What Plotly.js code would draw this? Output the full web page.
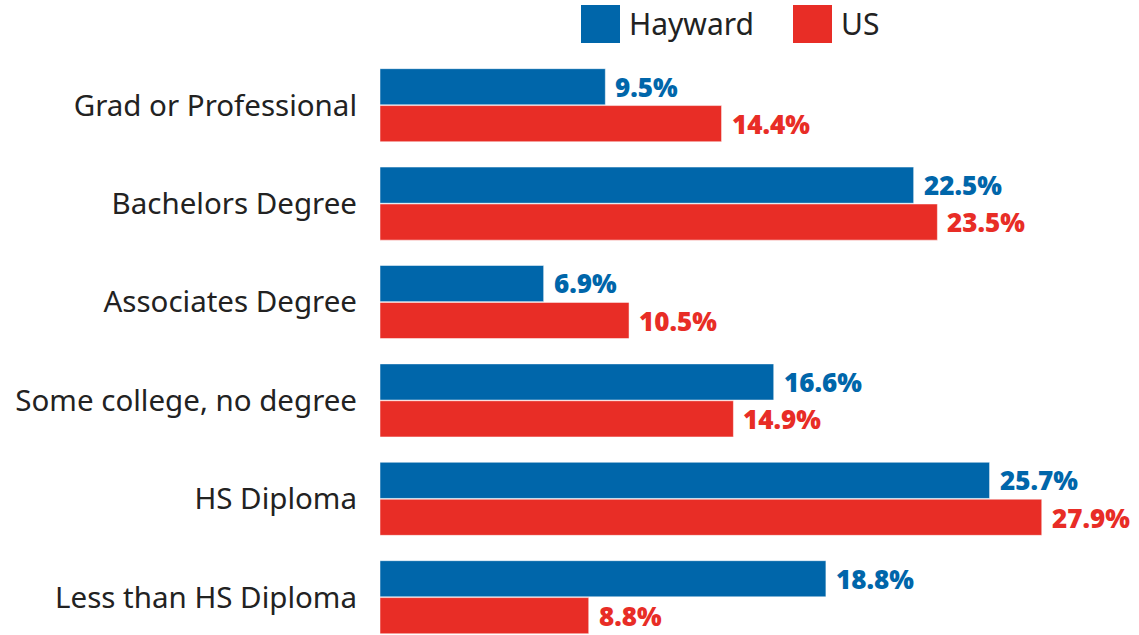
<!DOCTYPE html>
<html><head><meta charset="utf-8">
<script src="https://cdn.plot.ly/plotly-3.0.1.min.js"></script>
<style>html,body{margin:0;padding:0;background:#fff}#chart{width:1139px;height:635px}</style>
</head><body><div id="chart"></div>
<script>
const categories = ["Grad or Professional","Bachelors Degree","Associates Degree","Some college, no degree","HS Diploma","Less than HS Diploma"];
const hayward = [9.5, 22.5, 6.9, 16.6, 25.7, 18.8];
const us = [14.4, 23.5, 10.5, 14.9, 27.9, 8.8];
const seriesNames = ["Hayward","US"];
const BLUE = "#0066aa", RED = "#e82d26";

const traces = [
  {type:"bar", orientation:"h", name:seriesNames[0], y:categories, x:hayward, marker:{color:BLUE, line:{color:"#ffffff", width:0.5}}, hoverinfo:"x"},
  {type:"bar", orientation:"h", name:seriesNames[1], y:categories, x:us, marker:{color:RED, line:{color:"#ffffff", width:0.5}}, hoverinfo:"x"}
];

const valFont = c => ({family:"Open Sans, sans-serif", size:26, color:c, weight:800});
const annotations = [];
categories.forEach((c,i)=>{
  annotations.push({x:hayward[i], y:i-0.19, xref:"x", yref:"y", text:hayward[i].toFixed(1)+"%", showarrow:false, xanchor:"left", xshift:8, font:valFont(BLUE)});
  annotations.push({x:us[i], y:i+0.19, xref:"x", yref:"y", text:us[i].toFixed(1)+"%", showarrow:false, xanchor:"left", xshift:8, font:valFont(RED)});
});
// legend drawn manually
const W = 759, H = 579;
function px(x){return (x-380)/W;}
function py(y){return (635-y)/H;}
const shapes = [
  {type:"rect", xref:"paper", yref:"paper", x0:px(581), x1:px(620), y0:py(43), y1:py(5), fillcolor:BLUE, line:{width:0}},
  {type:"rect", xref:"paper", yref:"paper", x0:px(793), x1:px(832), y0:py(43), y1:py(5), fillcolor:RED, line:{width:0}}
];
annotations.push({xref:"paper", yref:"paper", x:px(627), y:py(23), text:seriesNames[0], showarrow:false, xanchor:"left", yanchor:"middle", font:{family:"Noto Sans, sans-serif", size:30, color:"#222"}});
annotations.push({xref:"paper", yref:"paper", x:px(839), y:py(23), text:seriesNames[1], showarrow:false, xanchor:"left", yanchor:"middle", font:{family:"Noto Sans, sans-serif", size:30, color:"#222"}});

const layout = {
  width:1139, height:635,
  margin:{l:380, r:0, t:56, b:0},
  paper_bgcolor:"#fff", plot_bgcolor:"#fff",
  barmode:"group", bargap:0.25, bargroupgap:0.02,
  showlegend:false,
  xaxis:{range:[0,32], visible:false, fixedrange:true},
  yaxis:{type:"category", categoryarray:categories, range:[5.384,-0.5], showgrid:false, zeroline:false, showline:false, ticks:"", ticklabelstandoff:22,
    tickfont:{family:"Noto Sans, sans-serif", size:29.5, color:"#222"}},
  annotations:annotations, shapes:shapes,
  font:{family:"Noto Sans, sans-serif"}
};
Plotly.newPlot("chart", traces, layout, {displayModeBar:false, staticPlot:true});
</script></body></html>
